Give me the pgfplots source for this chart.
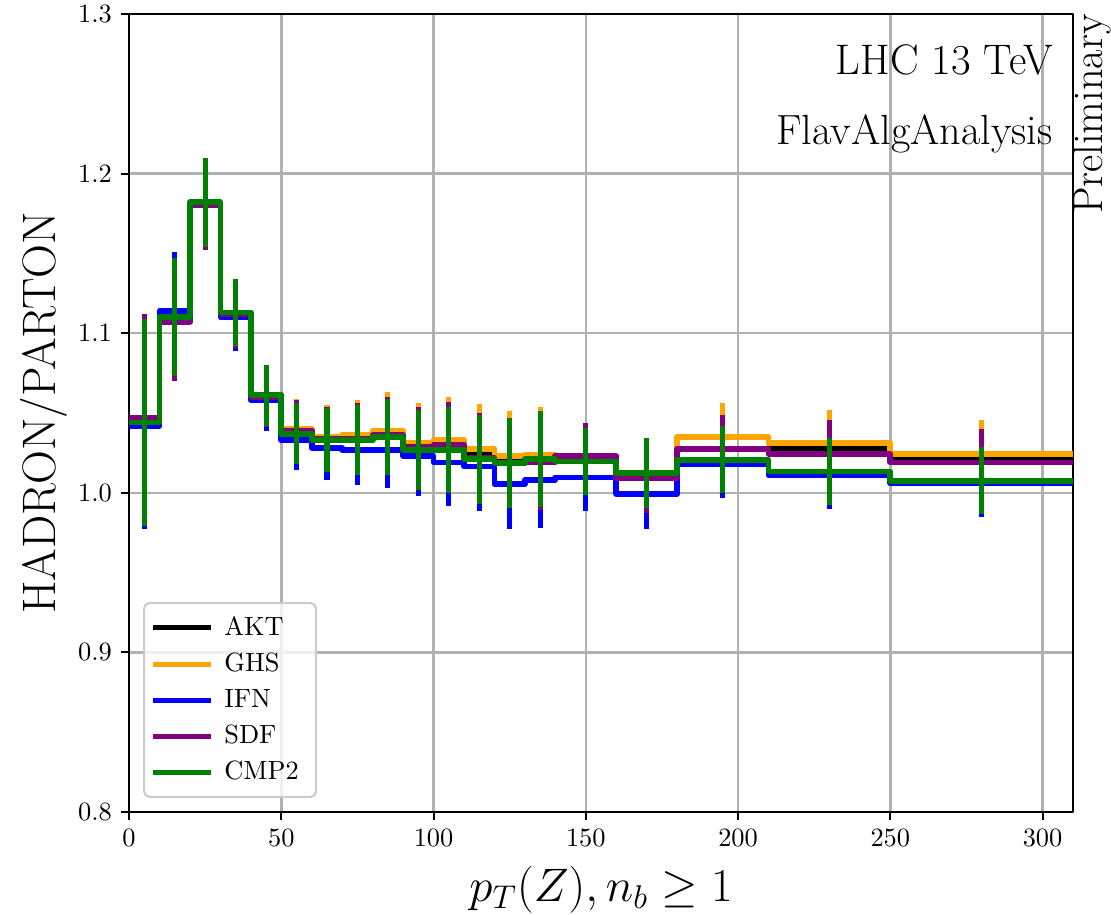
\RequirePackage{fix-cm}
\documentclass[border=0pt]{standalone}
\usepackage{fontspec}
\usepackage{pgfplots}
\usepackage{pgfplotstable}
\pgfplotsset{compat=1.18}
\definecolor{cAKT}{HTML}{000000}
\definecolor{cGHS}{HTML}{FFA500}
\definecolor{cIFN}{HTML}{0000FF}
\definecolor{cSDF}{HTML}{800080}
\definecolor{cCMP}{HTML}{008000}
\definecolor{gridc}{HTML}{B0B0B0}

\pgfplotstableread{
lo c ghs akt ifn sdf cmp e
0 5 1.045 1.045 1.042 1.047 1.044 0.065
10 15 1.108 1.108 1.114 1.107 1.110 0.037
20 25 1.181 1.181 1.181 1.180 1.182 0.028
30 35 1.112 1.112 1.110 1.112 1.113 0.021
40 45 1.061 1.061 1.058 1.060 1.061 0.019
50 55 1.040 1.039 1.033 1.039 1.037 0.019
60 65 1.035 1.034 1.028 1.034 1.033 0.020
70 75 1.036 1.035 1.027 1.034 1.033 0.022
80 85 1.039 1.037 1.027 1.036 1.035 0.024
90 95 1.031 1.030 1.023 1.029 1.027 0.025
100 105 1.033 1.031 1.019 1.030 1.027 0.027
110 115 1.0276 1.024 1.0165 1.022 1.021 0.028
120 125 1.023 1.021 1.0055 1.0186 1.0186 0.028
130 135 1.024 1.022 1.008 1.019 1.021 0.030
140 150 1.022 1.022 1.0096 1.023 1.0196 0.021
160 170 1.009 1.009 0.9994 1.0092 1.0123 0.022
180 195 1.035 1.0276 1.018 1.0276 1.0207 0.021
210 230 1.031 1.028 1.011 1.0244 1.0133 0.021
250 280 1.0244 1.0213 1.006 1.019 1.0075 0.021
310 nan 1.0244 1.0213 1.006 1.019 1.0075 0
}\data

\begin{document}
\begin{tikzpicture}
\begin{axis}[
  scale only axis,
  width=357.6pt, height=302.3pt,
  xmin=0, xmax=310, ymin=0.8, ymax=1.3,
  xtick={0,50,100,150,200,250,300},
  ytick={0.8,0.9,1.0,1.1,1.2,1.3},
  yticklabel style={/pgf/number format/fixed, /pgf/number format/fixed zerofill, /pgf/number format/precision=1},
  xtick pos=left, ytick pos=left,
  tick align=outside,
  major tick length=3pt,
  every tick/.style={black, line width=0.8pt},
  axis line style={line width=0.9pt},
  grid=major,
  major grid style={gridc, line width=0.9pt},
  tick label style={font=\fontsize{10}{12}\selectfont},
  xlabel={$p_T(Z), n_b \geq 1$},
  ylabel={HADRON/PARTON},
  label style={font=\fontsize{17.8}{21}\selectfont},
  xlabel style={at={(axis description cs:0.5,-0.1128)}, anchor=base},
  ylabel style={at={(axis description cs:-0.0783,0.5)}, anchor=base},
  legend style={at={(rel axis cs:0.0148,0.0175)}, anchor=south west,
    draw=gray!40, line width=0.8pt, rounded corners=2pt, fill=white, fill opacity=0.8, text opacity=1,
    font=\fontsize{10}{12}\selectfont, row sep=1.2pt, inner xsep=2.5pt, inner ysep=3pt,
    nodes={inner xsep=4pt}},
  legend cell align=left,
  legend image code/.code={\draw[#1, line width=1.9pt] (0pt,0pt) -- (22pt,0pt);},
  line join=round,
]
% AKT
\addplot[cAKT, line width=2.2pt, const plot mark left] table[x=lo, y=akt] {\data};
\addlegendentry{AKT}
\addplot[draw=none, mark=none, forget plot, error bars/.cd, y dir=both, y explicit, error mark=none,
  error bar style={draw=cAKT, line width=1.9pt}] table[x=c, y=akt, y error=e] {\data};
% GHS
\addplot[cGHS, line width=2.2pt, const plot mark left] table[x=lo, y=ghs] {\data};
\addlegendentry{GHS}
\addplot[draw=none, mark=none, forget plot, error bars/.cd, y dir=both, y explicit, error mark=none,
  error bar style={draw=cGHS, line width=1.9pt}] table[x=c, y=ghs, y error=e] {\data};
% IFN
\addplot[cIFN, line width=2.2pt, const plot mark left] table[x=lo, y=ifn] {\data};
\addlegendentry{IFN}
\addplot[draw=none, mark=none, forget plot, error bars/.cd, y dir=both, y explicit, error mark=none,
  error bar style={draw=cIFN, line width=1.9pt}] table[x=c, y=ifn, y error=e] {\data};
% SDF
\addplot[cSDF, line width=2.2pt, const plot mark left] table[x=lo, y=sdf] {\data};
\addlegendentry{SDF}
\addplot[draw=none, mark=none, forget plot, error bars/.cd, y dir=both, y explicit, error mark=none,
  error bar style={draw=cSDF, line width=1.9pt}] table[x=c, y=sdf, y error=e] {\data};
% CMP2
\addplot[cCMP, line width=2.2pt, const plot mark left] table[x=lo, y=cmp] {\data};
\addlegendentry{CMP2}
\addplot[draw=none, mark=none, forget plot, error bars/.cd, y dir=both, y explicit, error mark=none,
  error bar style={draw=cCMP, line width=1.9pt}] table[x=c, y=cmp, y error=e] {\data};

\node[anchor=base east, font=\fontsize{16.2}{19}\selectfont, inner sep=0pt] at (rel axis cs:0.979,0.9236) {LHC 13 TeV};
\node[anchor=base east, font=\fontsize{16}{19}\selectfont, inner sep=0pt] at (rel axis cs:0.979,0.836) {FlavAlgAnalysis};
\end{axis}
\node[rotate=90, anchor=north east, inner sep=0pt, font=\fontsize{16}{19}\selectfont] at (current axis.north east) {Preliminary};
\pgfresetboundingbox
\path ([xshift=-48.9pt,yshift=-39pt]current axis.south west) rectangle ([xshift=14.4pt,yshift=5.3pt]current axis.north east);
\end{tikzpicture}
\end{document}
